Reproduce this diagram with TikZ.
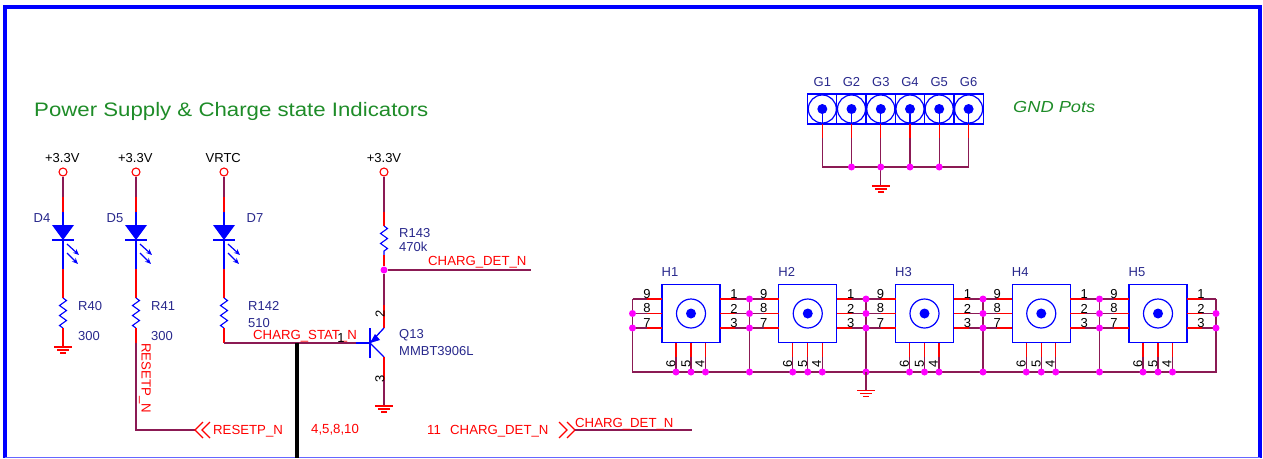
\documentclass[tikz,border=0pt]{standalone}
\usepackage{fontspec}
\setmainfont{Liberation Sans}
\newfontfamily\widefont[FakeStretch=1.14]{Liberation Sans}
\usetikzlibrary{decorations.pathmorphing,arrows.meta}
\definecolor{schblue}{RGB}{0,0,255}
\definecolor{schred}{RGB}{255,0,0}
\definecolor{schwire}{RGB}{139,26,84}
\definecolor{schnavy}{RGB}{40,40,140}
\definecolor{schgreen}{RGB}{30,140,40}
\definecolor{schdot}{RGB}{255,0,255}
\tikzset{
    wire/.style={schwire, line width=1.3pt},
    stub/.style={schred, line width=1.3pt},
    lead/.style={schblue, line width=1.3pt},
    reszig/.style={schblue, line width=1.1pt, decorate, decoration={zigzag, segment length=10pt, amplitude=3.5pt}},
    dot/.style={circle, fill=schdot, inner sep=0pt, minimum size=7pt},
    pwr/.style={circle, draw=schred, line width=1.1pt, fill=white, inner sep=0pt, minimum size=8pt},
    txt/.style={inner sep=0pt, font=\fontsize{13}{14}\selectfont},
    ref/.style={txt, schnavy},
    net/.style={txt, schred, font=\fontsize{13.2}{14}\selectfont},
    pinnum/.style={txt, black},
    hbox/.style={draw=schblue, line width=1.3pt, fill=white, minimum size=58pt, inner sep=0pt},
    gcell/.style={draw=schblue, line width=1.3pt, fill=white, minimum width=29.4pt, minimum height=30pt, inner sep=0pt},
    ring/.style={circle, draw=schblue, line width=1.2pt, inner sep=0pt},
    core/.style={circle, fill=schblue, inner sep=0pt, minimum size=10pt},
    gnd/.pic={
        \draw[schred, line width=1.1pt] (-9,0) -- (9,0) (-6,3) -- (6,3) (-3,6) -- (3,6);
    },
    led/.pic={
        \fill[schblue] (-11,0) -- (11,0) -- (0,15) -- cycle;
        \draw[schblue, line width=1.1pt] (-11,15) -- (11,15);
        \draw[schblue, line width=1.2pt, -{Stealth[length=6pt,width=5pt]}] (4,19) -- (16,30);
        \draw[schblue, line width=1.2pt, -{Stealth[length=6pt,width=5pt]}] (4,28) -- (15,39);
    }
}
\begin{document}
\begin{tikzpicture}[x=1pt, y=-1pt, >=stealth]
    \useasboundingbox (0,0) rectangle (1263,458);
    % sheet frame
    \draw[schblue, line width=4pt] (5,458) -- (5,7) -- (1260,7) -- (1260,458);
    \draw[schblue!60, line width=1pt] (5,457.5) -- (1260,457.5);

    \node[txt, schgreen, anchor=west, font=\fontsize{19.5}{20}\widefont] (title) at (34,111) {Power Supply \& Charge state Indicators};

    % LED branches
    \foreach \name/\res/\x/\volt in {d4/r40/63/+3.3V, d5/r41/136/+3.3V, d7/r142/224/VRTC} {
        \node[pwr] (\name pwr) at (\x,172) {};
        \node[pinnum] (\name volt) at ({\x-0.7},158) {\volt};
        \coordinate (\name a) at (\x,197);
        \coordinate (\name b) at (\x,212);
        \coordinate (\name c) at (\x,269);
        \coordinate (\res a) at (\x,298);
        \coordinate (\res b) at (\x,328);
        \draw[wire] (\name pwr) -- (\name a);
        \draw[stub] (\name a) -- (\name b);
        \draw[lead] (\name b) -- (\name c);
        \pic at (\x,225) {led};
        \draw[stub] (\name c) -- (\res a);
        \draw[reszig] (\res a) -- (\res b);
    }
    \node[ref] (d4lbl) at (42,218) {D4};
    \node[ref] (d5lbl) at (115,218) {D5};
    \node[ref] (d7lbl) at (255,218) {D7};
    \node[ref, anchor=west] (r40lbl) at (78,306) {R40};
    \node[ref, anchor=west] (r40val) at (78,336) {300};
    \node[ref, anchor=west] (r41lbl) at (151,306) {R41};
    \node[ref, anchor=west] (r41val) at (151,336) {300};
    \node[ref, anchor=west] (r142lbl) at (248,306) {R142};
    \node[ref, anchor=west] (r142val) at (248,323) {510};

    % R40 to ground
    \coordinate (gnda) at (63,347);
    \draw[stub] (r40b) -- (gnda);
    \pic at (gnda) {gnd};

    % R41 to the reset line
    \coordinate (r41c) at (136,343);
    \coordinate (r41d) at (136,430);
    \coordinate (resetend) at (195,430);
    \draw[stub] (r41b) -- (r41c);
    \draw[wire] (r41c) -- (r41d) -- (resetend);
    \draw[stub] (203,422) -- (195,430) -- (203,438) (210,422) -- (202,430) -- (210,438);
    \node[net, anchor=west] (resetlbl) at (213,431) {RESETP\_N};
    \node[net, rotate=-90, anchor=west] (resetnet) at (145,343) {RESETP\_N};

    % R142 to the base of Q13
    \coordinate (base) at (370,343);
    \coordinate (basew) at (356,343);
    \coordinate (r142c) at (224,343);
    \draw[stub] (r142b) -- (r142c);
    \draw[wire] (r142c) -- (basew);
    \draw[lead] (basew) -- (base);
    \draw[black, line width=4pt] (297,343) -- (297,458);
    \node[net, anchor=west] (statlbl) at (253,336) {CHARG\_STAT\_N};
    \node[pinnum] (pinb) at (341,338) {1};

    % Q13 and R143
    \node[pwr] (r143pwr) at (384,172) {};
    \node[pinnum] (r143volt) at (384,158) {+3.3V};
    \coordinate (r143c) at (384,212);
    \coordinate (r143a) at (384,226);
    \coordinate (r143b) at (384,255);
    \node[dot] (detdot) at (384,270) {};
    \coordinate (detend) at (531,270);
    \coordinate (coll) at (384,328);
    \coordinate (colw) at (384,305);
    \coordinate (emit) at (384,357);
    \coordinate (emitw) at (384,380);
    \coordinate (gndq) at (384,406);
    \draw[wire] (r143pwr) -- (r143c);
    \draw[stub] (r143c) -- (r143a);
    \draw[reszig] (r143a) -- (r143b);
    \draw[stub] (r143b) -- (detdot);
    \draw[wire] (detdot) -- (detend);
    \draw[wire] (detdot) -- (colw);
    \draw[stub] (colw) -- (coll);
    \draw[lead] (base) -- (coll);
    \draw[lead] (emit) -- (base);
    \fill[schblue] (370,343) -- (380,340) -- (375,334) -- cycle;
    \draw[schblue, line width=1.8pt] (370,328) -- (370,358);
    \draw[stub] (emit) -- (emitw);
    \draw[wire] (emitw) -- (gndq);
    \pic at (gndq) {gnd};
    \node[ref, anchor=west] (r143lbl) at (399,233) {R143};
    \node[ref, anchor=west] (r143val) at (399,247) {470k};
    \node[net, anchor=west] (detlbl) at (428,262) {CHARG\_DET\_N};
    \node[pinnum, rotate=90] (pinc) at (380,314) {2};
    \node[pinnum, rotate=90] (pine) at (380,379) {3};
    \node[ref, anchor=west] (q13lbl) at (399,335) {Q13};
    \node[ref, anchor=west] (q13val) at (399,351) {MMBT3906L};

    % off sheet connector
    \node[net, anchor=west] (pages) at (311,430) {4,5,8,10};
    \node[net, anchor=west] (pagenum) at (427,430) {11};
    \node[net, anchor=west] (detnet) at (450,431) {CHARG\_DET\_N};
    \coordinate (detout) at (575,430);
    \coordinate (detfar) at (692,430);
    \draw[stub] (559,422) -- (567,430) -- (559,438) (567,422) -- (575,430) -- (567,438);
    \draw[wire] (detout) -- (detfar);
    \node[net, anchor=west] (detout lbl) at (575,424) {CHARG\_DET\_N};

    % GND pots
    \foreach \n/\x in {1/822.3, 2/851.5, 3/880.8, 4/910, 5/939.2, 6/968.6} {
        \node[gcell] (g\n) at (\x,109) {};
        \node[ring, minimum size=28pt] (g\n ring) at (\x,109) {};
        \node[core] (g\n core) at (\x,109) {};
        \node[txt, schnavy] (g\n lbl) at (\x,82) {G\n};
        \coordinate (g\n a) at (\x,124);
        \coordinate (g\n b) at (\x,138);
        \coordinate (g\n c) at (\x,167);
        \draw[lead] (g\n core) -- (g\n a);
        \draw[stub] (g\n a) -- (g\n b);
        \draw[wire] (g\n b) -- (g\n c);
    }
    \coordinate (ggnd) at (880.8,186);
    \draw[wire] (g1c) -- (g6c);
    \draw[wire] (g3c) -- (ggnd);
    \pic at (ggnd) {gnd};
    \foreach \n in {2,3,4,5} {
        \node[dot] (g\n dot) at (g\n c) {};
    }
    \node[txt, schgreen, anchor=west, font=\fontsize{16}{16}\widefont\itshape] (gndpots) at (1013,107) {GND Pots};

    % H connectors
    \foreach \n/\x in {1/691, 2/807.75, 3/924.5, 4/1041.25, 5/1158} {
        \node[hbox] (h\n) at (\x,313.5) {};
        \node[ring, minimum size=29pt] (h\n ring) at (\x,313.5) {};
        \node[core] (h\n core) at (\x,313.5) {};
        \node[txt, schnavy] (h\n lbl) at ({\x-21},272) {H\n};
        \foreach \row/\y in {a/299, b/313.5, c/328} {
            \coordinate (h\n l\row) at ({\x-29},\y);
            \coordinate (h\n m\row) at ({\x-44},\y);
            \coordinate (h\n r\row) at ({\x+29},\y);
            \coordinate (h\n s\row) at ({\x+44},\y);
            \draw[stub] (h\n l\row) -- (h\n m\row);
            \draw[stub] (h\n r\row) -- (h\n s\row);
        }
        \foreach \col/\dx in {a/-15, b/0, c/14.5} {
            \coordinate (h\n t\col) at ({\x+\dx},343);
            \coordinate (h\n u\col) at ({\x+\dx},357);
            \coordinate (h\n v\col) at ({\x+\dx},372);
            \draw[stub] (h\n t\col) -- (h\n u\col);
            \draw[wire] (h\n u\col) -- (h\n v\col);
        }
    }
    % rails between the connectors
    \coordinate (railw) at (632.5,372);
    \coordinate (raile) at (1216,372);
    \coordinate (railwa) at (632.5,299);
    \coordinate (railwb) at (632.5,313.5);
    \coordinate (railwc) at (632.5,328);
    \coordinate (railea) at (1216,299);
    \coordinate (raileb) at (1216,313.5);
    \coordinate (railec) at (1216,328);
    \draw[wire] (railwa) -- (railw) -- (raile) -- (railea);
    \foreach \row in {a,b,c} {
        \draw[wire] (railw\row) -- (h1m\row);
        \draw[wire] (h5s\row) -- (raile\row);
    }
    \foreach \n/\m/\x in {1/2/749.5, 2/3/866, 3/4/983, 4/5/1099.5} {
        \coordinate (link\n) at (\x,372);
        \coordinate (link\n a) at (\x,299);
        \coordinate (link\n b) at (\x,313.5);
        \coordinate (link\n c) at (\x,328);
        \draw[wire] (link\n a) -- (link\n);
        \foreach \row in {a,b,c} {
            \draw[wire] (h\n s\row) -- (h\m m\row);
            \node[dot] (link\n\row dot) at (link\n\row) {};
        }
        \node[dot] (link\n dot) at (link\n) {};
    }
    \coordinate (hgnd) at (866,390.5);
    \draw[wire] (link2) -- (hgnd);
    \pic at (hgnd) {gnd};
    \node[dot] (railwbdot) at (railwb) {};
    \node[dot] (railwcdot) at (railwc) {};
    \node[dot] (railebdot) at (raileb) {};
    \node[dot] (railecdot) at (railec) {};
    \foreach \n/\x in {1/691, 2/807.75, 3/924.5, 4/1041.25, 5/1158} {
        \foreach \col in {a,b,c} {
            \node[dot] (h\n\col dot) at (h\n v\col) {};
        }
        \node[pinnum] (h\n nine) at ({\x-44},294) {9};
        \node[pinnum] (h\n eight) at ({\x-44},308.5) {8};
        \node[pinnum] (h\n seven) at ({\x-44},323) {7};
        \node[pinnum] (h\n one) at ({\x+43},294) {1};
        \node[pinnum] (h\n two) at ({\x+43},308.5) {2};
        \node[pinnum] (h\n three) at ({\x+43},323) {3};
        \node[pinnum, rotate=90] (h\n six) at ({\x-20},364) {6};
        \node[pinnum, rotate=90] (h\n five) at ({\x-5},364) {5};
        \node[pinnum, rotate=90] (h\n four) at ({\x+9},364) {4};
    }
\end{tikzpicture}
\end{document}
